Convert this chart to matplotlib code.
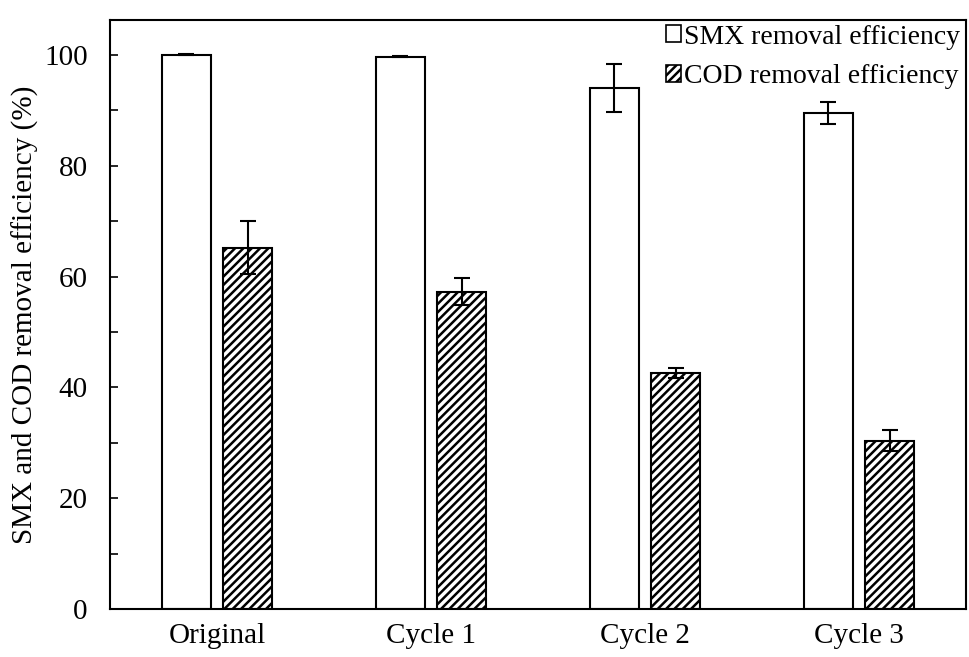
import matplotlib
matplotlib.use("Agg")
import matplotlib.pyplot as plt
import numpy as np
from matplotlib.patches import Patch

plt.rcParams['font.family'] = ['Liberation Serif', 'DejaVu Serif']
plt.rcParams['hatch.linewidth'] = 1.8

categories = ["Original", "Cycle 1", "Cycle 2", "Cycle 3"]
smx = [100.0, 99.7, 94.0, 89.5]
smx_err = [0.1, 0.1, 4.3, 2.0]
cod = [65.2, 57.3, 42.6, 30.4]
cod_err = [4.8, 2.4, 0.9, 1.9]

fig = plt.figure(figsize=(9.69, 6.57), dpi=100)
ax = fig.add_axes([0.1135, 0.073, 0.8835, 0.8966])

x = np.arange(len(categories)) + 0.5
w = 0.23
off = 0.143
ekw = dict(elinewidth=1.5, capthick=1.5)
ax.bar(x - off, smx, w, color='white', edgecolor='black', linewidth=1.5,
       yerr=smx_err, capsize=6, error_kw=ekw, zorder=2)
ax.bar(x + off, cod, w, color='white', edgecolor='black', linewidth=1.5,
       hatch='////', yerr=cod_err, capsize=6, error_kw=ekw, zorder=2)

ax.set_xlim(0, 4)
ax.set_ylim(0, 106.3)
ax.set_xticks(x)
ax.set_xticklabels(categories, fontsize=21)
ax.tick_params(axis='x', length=0, pad=10)
ax.set_yticks([0, 20, 40, 60, 80, 100])
ax.set_yticks([10, 30, 50, 70, 90], minor=True)
ax.tick_params(axis='y', which='major', direction='in', length=6, width=1.2, labelsize=21, pad=16)
ax.tick_params(axis='y', which='minor', direction='in', length=6, width=1.2)
for s in ax.spines.values():
    s.set_linewidth(1.5)
ax.set_ylabel("SMX and COD removal efficiency (%)", fontsize=21, labelpad=4)

handles = [Patch(facecolor='white', edgecolor='black', linewidth=1.2, label='SMX removal efficiency'),
           Patch(facecolor='white', edgecolor='black', linewidth=1.2, hatch='////', label='COD removal efficiency')]
ax.legend(handles=handles, loc='upper right', frameon=False, fontsize=20,
          handlelength=0.55, handleheight=0.55, handletextpad=0.1, labelspacing=0.52,
          borderaxespad=0.0, bbox_to_anchor=(1.006, 1.011))

fig.savefig("out.png", dpi=100)
